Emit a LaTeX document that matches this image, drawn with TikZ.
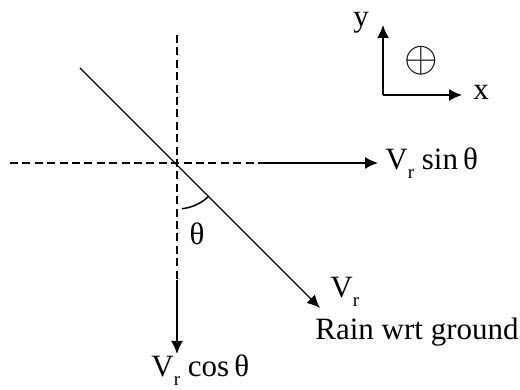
\documentclass[tikz,border=0pt]{standalone}
\usepackage{fontspec}
\setmainfont{Liberation Serif}
\usetikzlibrary{arrows.meta, positioning}

\tikzset{
  vec/.style={line width=0.75pt, -{Latex[length=6.5pt,width=6pt]}},
  guide/.style={line width=0.75pt, dash pattern=on 4pt off 2.2pt},
  lbl/.style={font=\fontsize{15.5}{18}\selectfont, inner sep=0pt}
}
\newcommand{\Vsub}{V\raisebox{-0.6ex}{\fontsize{9.5}{10}\selectfont r}}

\begin{document}
\begin{tikzpicture}[x=0.5pt, y=0.5pt]
            \useasboundingbox (0,0) rectangle (520,390);

            % Point of reference
            \coordinate (O) at (177,227);
            \coordinate (vtop) at (177,355);
            \coordinate (vmid) at (177,110);
            \coordinate (vtip) at (177,36);
            \coordinate (hleft) at (10,227);
            \coordinate (hmid) at (260,227);
            \coordinate (htip) at (378,227);
            \coordinate (dtail) at (80,322);
            \coordinate (dtip) at (320,82);

            % Labels
            \node[lbl, anchor=base west] (sinlbl) at (385,220) {\Vsub\ sin\,θ};
            \node[lbl, anchor=base west] (coslbl) at (151,13) {\Vsub\ cos\,θ};
            \node[lbl, anchor=base west] (vrlbl) at (330,92) {\Vsub};
            \node[lbl, anchor=base west] (rain) at (315,50) {Rain wrt ground};
            \node[lbl, anchor=base] (theta) at (197,145) {θ};

            % Dashed guides
            \draw[guide] (vtop) -- (vmid);
            \draw[guide] (hleft) -- (hmid);

            % Components
            \draw[vec] (vmid) -- (vtip);
            \draw[vec] (hmid) -- (htip);

            % Rain velocity
            \draw[vec, line width=0.7pt] (dtail) -- (dtip);

            % Angle
            \draw[line width=0.75pt] ([shift={(-84:23pt)}]O) arc[start angle=-84, end angle=-46, radius=23pt];

            % Axes
            \coordinate (ax) at (383,295);
            \coordinate (axy) at (383,365);
            \coordinate (axx) at (462,295);
            \draw[vec] (ax) -- (axy);
            \draw[vec] (ax) -- (axx);
            \node[lbl, anchor=base] (ylbl) at (361,363) {y};
            \node[lbl, anchor=base] (xlbl) at (481,290) {x};
            \node[lbl, scale=1.5] (plus) at (421,329) {$\oplus$};
        \end{tikzpicture}
\end{document}
